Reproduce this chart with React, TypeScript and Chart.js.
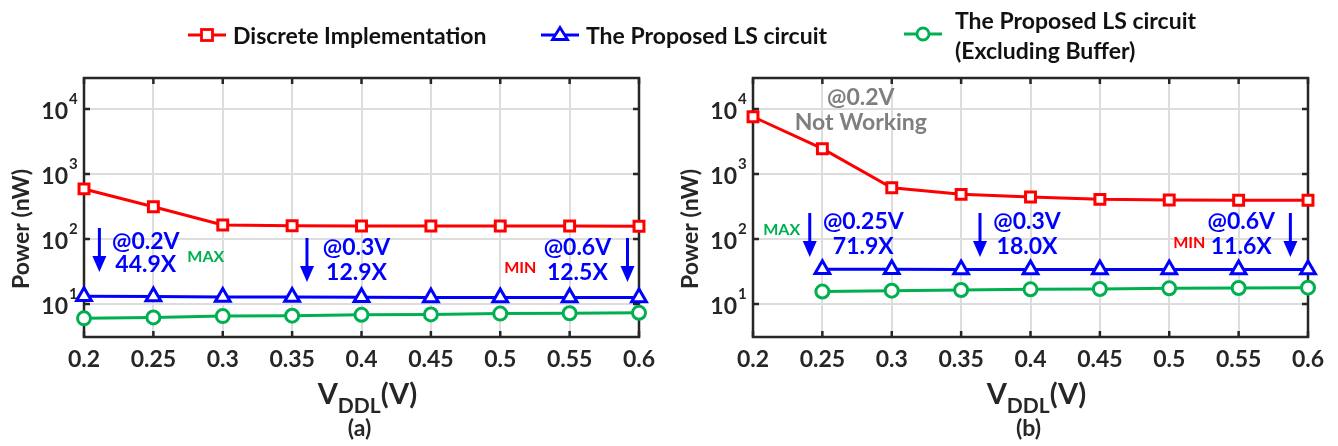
import React, { useEffect, useRef } from 'react';
import { Chart, registerables } from 'chart.js';

Chart.register(...registerables);

// ---------- data ----------
const xValues = [0.2, 0.25, 0.3, 0.35, 0.4, 0.45, 0.5, 0.55, 0.6];
const xTickLabels = ['0.2', '0.25', '0.3', '0.35', '0.4', '0.45', '0.5', '0.55', '0.6'];
const yTickValues = [10, 100, 1000, 10000];
const yTickExponents = ['1', '2', '3', '4'];

const seriesNames = ['Discrete Implementation', 'The Proposed LS circuit', 'The Proposed LS circuit (Excluding Buffer)'];

// panel (a)
const discreteA = [589, 314, 164, 160, 158, 158, 158, 158, 157];
const proposedA = [13.1, 13.0, 12.8, 12.8, 12.7, 12.6, 12.6, 12.6, 12.6];
const excludingA = [6.0, 6.2, 6.5, 6.6, 6.8, 6.9, 7.1, 7.2, 7.3];

// panel (b)
const discreteB = [7600, 2450, 615, 486, 443, 407, 398, 395, 394];
const proposedB = [null, 34.1, 34.2, 34.0, 34.0, 33.8, 33.8, 33.8, 34.0];
const excludingB = [null, 15.5, 16.0, 16.4, 16.8, 17.0, 17.4, 17.6, 17.8];

// ---------- styles ----------
const RED = '#ff0000';
const BLUE = '#0000ff';
const GREEN = '#00b050';
const GRAY = '#7f7f7f';
const INK = '#262626';
const FONT = 'Lato, "Open Sans", sans-serif';
const TXT = 23;

type Ann =
  | { kind: 'arrow'; x: number; y1: number; y2: number; color: string }
  | { kind: 'text'; x: number; y: number; text: string; color: string; size: number };

const annotationsA: Ann[] = [
  { kind: 'arrow', x: 0.2111, y1: 147.5, y2: 31.0, color: BLUE },
  { kind: 'text', x: 0.2445, y: 90, text: '@0.2V', color: BLUE, size: TXT },
  { kind: 'text', x: 0.2445, y: 39.8, text: '44.9X', color: BLUE, size: TXT },
  { kind: 'text', x: 0.2878, y: 52.9, text: 'MAX', color: GREEN, size: 16 },
  { kind: 'arrow', x: 0.3607, y1: 103.6, y2: 21.8, color: BLUE },
  { kind: 'text', x: 0.3964, y: 72.7, text: '@0.3V', color: BLUE, size: TXT },
  { kind: 'text', x: 0.3964, y: 30.0, text: '12.9X', color: BLUE, size: TXT },
  { kind: 'text', x: 0.5144, y: 35.8, text: 'MIN', color: RED, size: 16 },
  { kind: 'text', x: 0.5556, y: 72.7, text: '@0.6V', color: BLUE, size: TXT },
  { kind: 'text', x: 0.5556, y: 30.0, text: '12.5X', color: BLUE, size: TXT },
  { kind: 'arrow', x: 0.5917, y1: 103.6, y2: 21.8, color: BLUE },
];

const annotationsB: Ann[] = [
  { kind: 'text', x: 0.2777, y: 14770, text: '@0.2V', color: GRAY, size: TXT },
  { kind: 'text', x: 0.2777, y: 6090, text: 'Not Working', color: GRAY, size: TXT },
  { kind: 'text', x: 0.2207, y: 137.5, text: 'MAX', color: GREEN, size: 16 },
  { kind: 'arrow', x: 0.2409, y1: 251, y2: 52.9, color: BLUE },
  { kind: 'text', x: 0.2795, y: 182.8, text: '@0.25V', color: BLUE, size: TXT },
  { kind: 'text', x: 0.2795, y: 75.3, text: '71.9X', color: BLUE, size: TXT },
  { kind: 'arrow', x: 0.3636, y1: 251, y2: 52.9, color: BLUE },
  { kind: 'text', x: 0.3975, y: 182.8, text: '@0.3V', color: BLUE, size: TXT },
  { kind: 'text', x: 0.3975, y: 75.3, text: '18.0X', color: BLUE, size: TXT },
  { kind: 'text', x: 0.5144, y: 86.7, text: 'MIN', color: RED, size: 16 },
  { kind: 'text', x: 0.5519, y: 182.8, text: '@0.6V', color: BLUE, size: TXT },
  { kind: 'text', x: 0.5519, y: 75.3, text: '11.6X', color: BLUE, size: TXT },
  { kind: 'arrow', x: 0.5873, y1: 251, y2: 52.9, color: BLUE },
];

const PANEL_W = 669;
const PANEL_H = 446;

function toPoints(vals: (number | null)[]) {
  return xValues.map((x, i) => ({ x, y: vals[i] }));
}

function makeDecoPlugin(caption: string, anns: Ann[]) {
  return {
    id: 'deco',
    beforeDatasetsDraw(chart: any) {
      const { ctx, chartArea: a, scales } = chart;
      ctx.save();
      ctx.strokeStyle = INK;
      ctx.lineWidth = 2.5;
      ctx.strokeRect(a.left, a.top, a.right - a.left, a.bottom - a.top);
      const tl = 6;
      ctx.beginPath();
      xValues.forEach((v) => {
        const px = scales.x.getPixelForValue(v);
        ctx.moveTo(px, a.bottom);
        ctx.lineTo(px, a.bottom - tl);
        ctx.moveTo(px, a.top);
        ctx.lineTo(px, a.top + tl);
      });
      yTickValues.forEach((v) => {
        const py = scales.y.getPixelForValue(v);
        ctx.moveTo(a.left, py);
        ctx.lineTo(a.left + tl, py);
        ctx.moveTo(a.right, py);
        ctx.lineTo(a.right - tl, py);
      });
      ctx.stroke();
      ctx.restore();
    },
    afterDraw(chart: any) {
      const { ctx, chartArea: a, scales } = chart;
      ctx.save();
      ctx.fillStyle = INK;
      // x tick labels
      ctx.font = `bold ${TXT}px ${FONT}`;
      ctx.textAlign = 'center';
      ctx.textBaseline = 'middle';
      xValues.forEach((v, i) => {
        ctx.fillText(xTickLabels[i], scales.x.getPixelForValue(v), a.bottom + 23);
      });
      // y tick labels 10^k
      yTickValues.forEach((v, i) => {
        const py = scales.y.getPixelForValue(v);
        ctx.font = `bold ${TXT}px ${FONT}`;
        ctx.textAlign = 'right';
        ctx.textBaseline = 'middle';
        ctx.fillText('10', a.left - 16, py + 3);
        ctx.font = `bold 15px ${FONT}`;
        ctx.textAlign = 'left';
        ctx.fillText(yTickExponents[i], a.left - 15, py - 10);
      });
      // y title
      ctx.save();
      ctx.translate(22, 229);
      ctx.rotate(-Math.PI / 2);
      ctx.font = `bold ${TXT}px ${FONT}`;
      ctx.textAlign = 'center';
      ctx.textBaseline = 'middle';
      ctx.fillText('Power (nW)', 0, 0);
      ctx.restore();
      // x title V_DDL(V)
      const cx = (a.left + a.right) / 2 + 6;
      ctx.textAlign = 'left';
      ctx.textBaseline = 'alphabetic';
      ctx.font = `bold 29px ${FONT}`;
      const wV = ctx.measureText('V').width;
      const wP = ctx.measureText('(V)').width;
      ctx.font = `bold 21px ${FONT}`;
      const wS = ctx.measureText('DDL').width;
      const x0 = cx - (wV + wS + wP) / 2;
      ctx.font = `bold 29px ${FONT}`;
      ctx.fillText('V', x0, 404);
      ctx.font = `bold 21px ${FONT}`;
      ctx.fillText('DDL', x0 + wV, 413);
      ctx.font = `bold 29px ${FONT}`;
      ctx.fillText('(V)', x0 + wV + wS, 404);
      // caption
      ctx.font = `bold 23px ${FONT}`;
      ctx.textAlign = 'center';
      ctx.textBaseline = 'middle';
      ctx.fillText(caption, (a.left + a.right) / 2 - 2, 429);

      // annotations
      anns.forEach((an) => {
        const px = scales.x.getPixelForValue(an.x);
        if (an.kind === 'text') {
          ctx.fillStyle = an.color;
          ctx.font = `bold ${an.size}px ${FONT}`;
          ctx.textAlign = 'center';
          ctx.textBaseline = 'middle';
          ctx.fillText(an.text, px, scales.y.getPixelForValue(an.y));
        } else {
          const y1 = scales.y.getPixelForValue(an.y1);
          const y2 = scales.y.getPixelForValue(an.y2);
          const head = 16;
          const hw = 7;
          ctx.strokeStyle = an.color;
          ctx.fillStyle = an.color;
          ctx.lineWidth = 3;
          ctx.beginPath();
          ctx.moveTo(px, y1);
          ctx.lineTo(px, y2 - head + 2);
          ctx.stroke();
          ctx.beginPath();
          ctx.moveTo(px - hw, y2 - head);
          ctx.lineTo(px + hw, y2 - head);
          ctx.lineTo(px, y2);
          ctx.closePath();
          ctx.fill();
        }
      });
      ctx.restore();
    },
  };
}

function buildConfig(d: (number | null)[], p: (number | null)[], e: (number | null)[], caption: string, anns: Ann[]): any {
  const common = { borderWidth: 3, pointBorderWidth: 3, pointBackgroundColor: '#ffffff', clip: false, spanGaps: false };
  return {
    type: 'line',
    data: {
      datasets: [
        { ...common, label: seriesNames[0], data: toPoints(d), borderColor: RED, pointBorderColor: RED, pointStyle: 'rect', pointRadius: 7 },
        { ...common, label: seriesNames[1], data: toPoints(p), borderColor: BLUE, pointBorderColor: BLUE, pointStyle: 'triangle', pointRadius: 8.5 },
        { ...common, label: seriesNames[2], data: toPoints(e), borderColor: GREEN, pointBorderColor: GREEN, pointStyle: 'circle', pointRadius: 6.5 },
      ],
    },
    options: {
      responsive: false,
      animation: false,
      devicePixelRatio: 1,
      layout: { padding: { left: 84, right: 30, top: 78, bottom: 109 } },
      plugins: { legend: { display: false }, tooltip: { enabled: false } },
      scales: {
        x: {
          type: 'linear',
          min: 0.2,
          max: 0.6,
          afterBuildTicks: (s: any) => {
            s.ticks = xValues.map((v) => ({ value: v }));
          },
          ticks: { display: false },
          grid: { color: '#dddddd', lineWidth: 2, drawTicks: false },
          border: { display: false },
        },
        y: {
          type: 'logarithmic',
          min: 3.1,
          max: 30000,
          afterBuildTicks: (s: any) => {
            s.ticks = yTickValues.map((v) => ({ value: v }));
          },
          ticks: { display: false },
          grid: { color: '#dddddd', lineWidth: 2, drawTicks: false },
          border: { display: false },
        },
      },
    },
    plugins: [makeDecoPlugin(caption, anns)],
  };
}

function Panel(props: { d: (number | null)[]; p: (number | null)[]; e: (number | null)[]; caption: string; anns: Ann[]; left: number }) {
  const ref = useRef<HTMLCanvasElement>(null);
  useEffect(() => {
    if (!ref.current) return;
    const chart = new Chart(ref.current, buildConfig(props.d, props.p, props.e, props.caption, props.anns));
    return () => chart.destroy();
  }, []);
  return (
    <canvas
      ref={ref}
      width={PANEL_W}
      height={PANEL_H}
      style={{ position: 'absolute', left: props.left, top: 0, width: PANEL_W, height: PANEL_H }}
    />
  );
}

function Marker({ kind, color }: { kind: 'rect' | 'triangle' | 'circle'; color: string }) {
  return (
    <svg width={38} height={20} style={{ display: 'block' }}>
      <line x1={0} y1={10} x2={38} y2={10} stroke={color} strokeWidth={3} />
      {kind === 'rect' && <rect x={13.5} y={4.5} width={11} height={11} fill="#fff" stroke={color} strokeWidth={2.8} />}
      {kind === 'triangle' && <polygon points="19,2.5 26.5,14.5 11.5,14.5" fill="#fff" stroke={color} strokeWidth={2.8} />}
      {kind === 'circle' && <circle cx={19} cy={10} r={6} fill="#fff" stroke={color} strokeWidth={2.8} />}
    </svg>
  );
}

const legendText: React.CSSProperties = {
  position: 'absolute',
  fontFamily: FONT,
  fontWeight: 700,
  fontSize: 23,
  lineHeight: '30px',
  color: '#111',
  whiteSpace: 'nowrap',
};

export default function App() {
  return (
    <div style={{ position: 'fixed', left: 0, top: 0, width: 1338, height: 446, background: '#fff', overflow: 'hidden' }}>
      <Panel d={discreteA} p={proposedA} e={excludingA} caption="(a)" anns={annotationsA} left={0} />
      <Panel d={discreteB} p={proposedB} e={excludingB} caption="(b)" anns={annotationsB} left={669} />
      <div style={{ position: 'absolute', left: 188, top: 25 }}>
        <Marker kind="rect" color={RED} />
      </div>
      <div style={{ ...legendText, left: 233, top: 20 }}>{seriesNames[0]}</div>
      <div style={{ position: 'absolute', left: 541, top: 25 }}>
        <Marker kind="triangle" color={BLUE} />
      </div>
      <div style={{ ...legendText, left: 586, top: 20 }}>{seriesNames[1]}</div>
      <div style={{ position: 'absolute', left: 904, top: 24 }}>
        <Marker kind="circle" color={GREEN} />
      </div>
      <div style={{ ...legendText, left: 955, top: 5 }}>
        The Proposed LS circuit
        <br />
        (Excluding Buffer)
      </div>
    </div>
  );
}
